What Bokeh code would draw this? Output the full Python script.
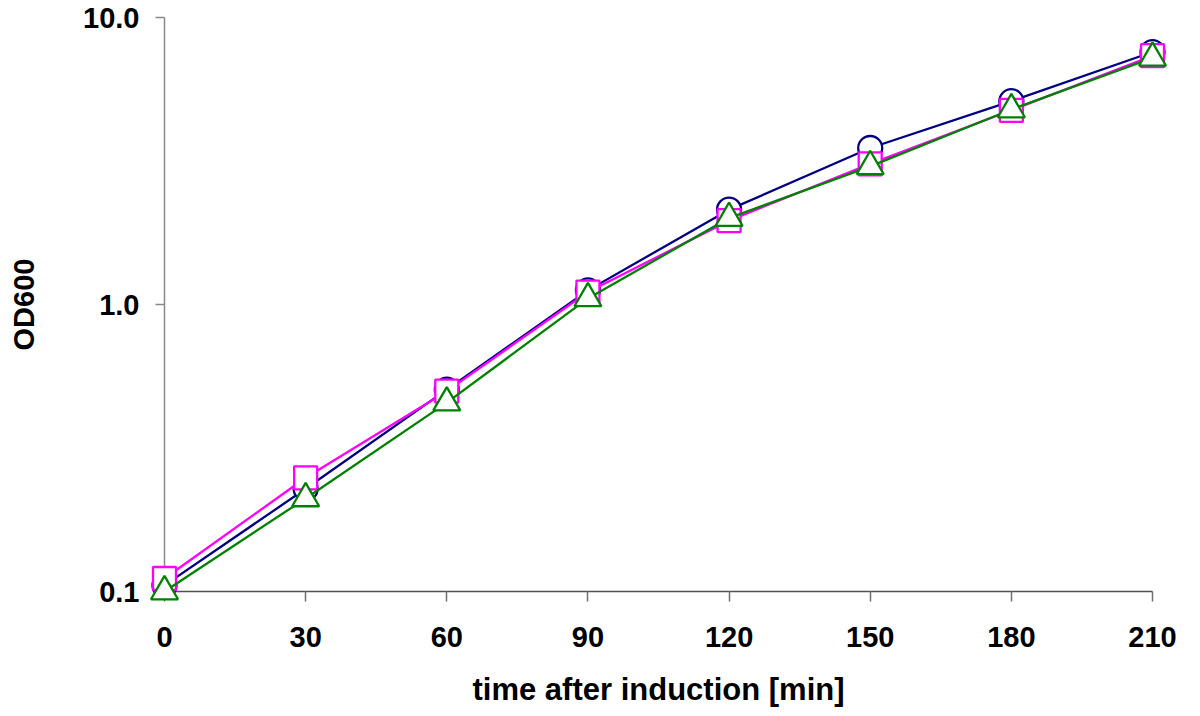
from bokeh.plotting import figure
from bokeh.models import FixedTicker, PrintfTickFormatter, Range1d
from bokeh.embed import file_html
from bokeh.resources import INLINE

# ---- data ----
time_min = [0, 30, 60, 90, 120, 150, 180, 210]
od_circle = [0.105, 0.228, 0.505, 1.12, 2.14, 3.51, 5.11, 7.58]
od_square = [0.111, 0.249, 0.499, 1.105, 1.96, 3.09, 4.75, 7.36]
od_triangle = [0.100, 0.211, 0.455, 1.05, 2.00, 3.03, 4.78, 7.23]
x_ticks = [0, 30, 60, 90, 120, 150, 180, 210]
y_ticks = [0.1, 1, 10]
x_title = "time after induction [min]"
y_title = "OD600"

FONT = "Liberation Sans"

p = figure(width=1200, height=716, y_axis_type="log",
           x_range=Range1d(0, 210), y_range=Range1d(0.1, 10),
           output_backend="svg", toolbar_location=None,
           min_border_left=164, min_border_right=48, min_border_top=17,
           min_border_bottom=125)
p.outline_line_color = None
p.xgrid.visible = False
p.ygrid.visible = False
p.background_fill_color = "white"
p.border_fill_color = "white"

series = [
    (od_circle, "#000080", "circle", 24),
    (od_square, "#FF00FF", "square", 23),
    (od_triangle, "#008000", "triangle", 27),
]
for vals, col, mk, sz in series:
    p.line(time_min, vals, line_color=col, line_width=2.3, level="overlay")
    p.scatter(time_min, vals, marker=mk, size=sz, line_color=col,
              line_width=2.3, fill_color="white", level="overlay")

xa = p.xaxis[0]
xa.ticker = FixedTicker(ticks=x_ticks)
xa.minor_tick_line_color = None
xa.major_tick_in = 0
xa.major_tick_out = 10
xa.axis_line_color = "#505050"
xa.axis_line_width = 1.5
xa.major_tick_line_color = "#707070"
xa.major_tick_line_width = 1.5
xa.major_label_text_font = FONT
xa.major_label_text_font_style = "bold"
xa.major_label_text_font_size = "29px"
xa.major_label_text_color = "black"
xa.major_label_standoff = 25
xa.axis_label = x_title
xa.axis_label_text_font = FONT
xa.axis_label_text_font_style = "bold"
xa.axis_label_text_font_size = "31px"
xa.axis_label_text_color = "black"
xa.axis_label_standoff = 22

ya = p.yaxis[0]
ya.ticker = FixedTicker(ticks=y_ticks)
ya.formatter = PrintfTickFormatter(format="%.1f")
ya.minor_tick_line_color = None
ya.major_tick_in = 0
ya.major_tick_out = 9
ya.axis_line_color = "#888888"
ya.axis_line_width = 1.5
ya.major_tick_line_color = "#888888"
ya.major_tick_line_width = 1.5
ya.major_label_text_font = FONT
ya.major_label_text_font_style = "bold"
ya.major_label_text_font_size = "29px"
ya.major_label_text_color = "black"
ya.major_label_standoff = 16
ya.axis_label = y_title
ya.axis_label_text_font = FONT
ya.axis_label_text_font_style = "bold"
ya.axis_label_text_font_size = "29px"
ya.axis_label_text_color = "black"
ya.axis_label_standoff = 40

open("out.html", "w").write(file_html(p, INLINE))
